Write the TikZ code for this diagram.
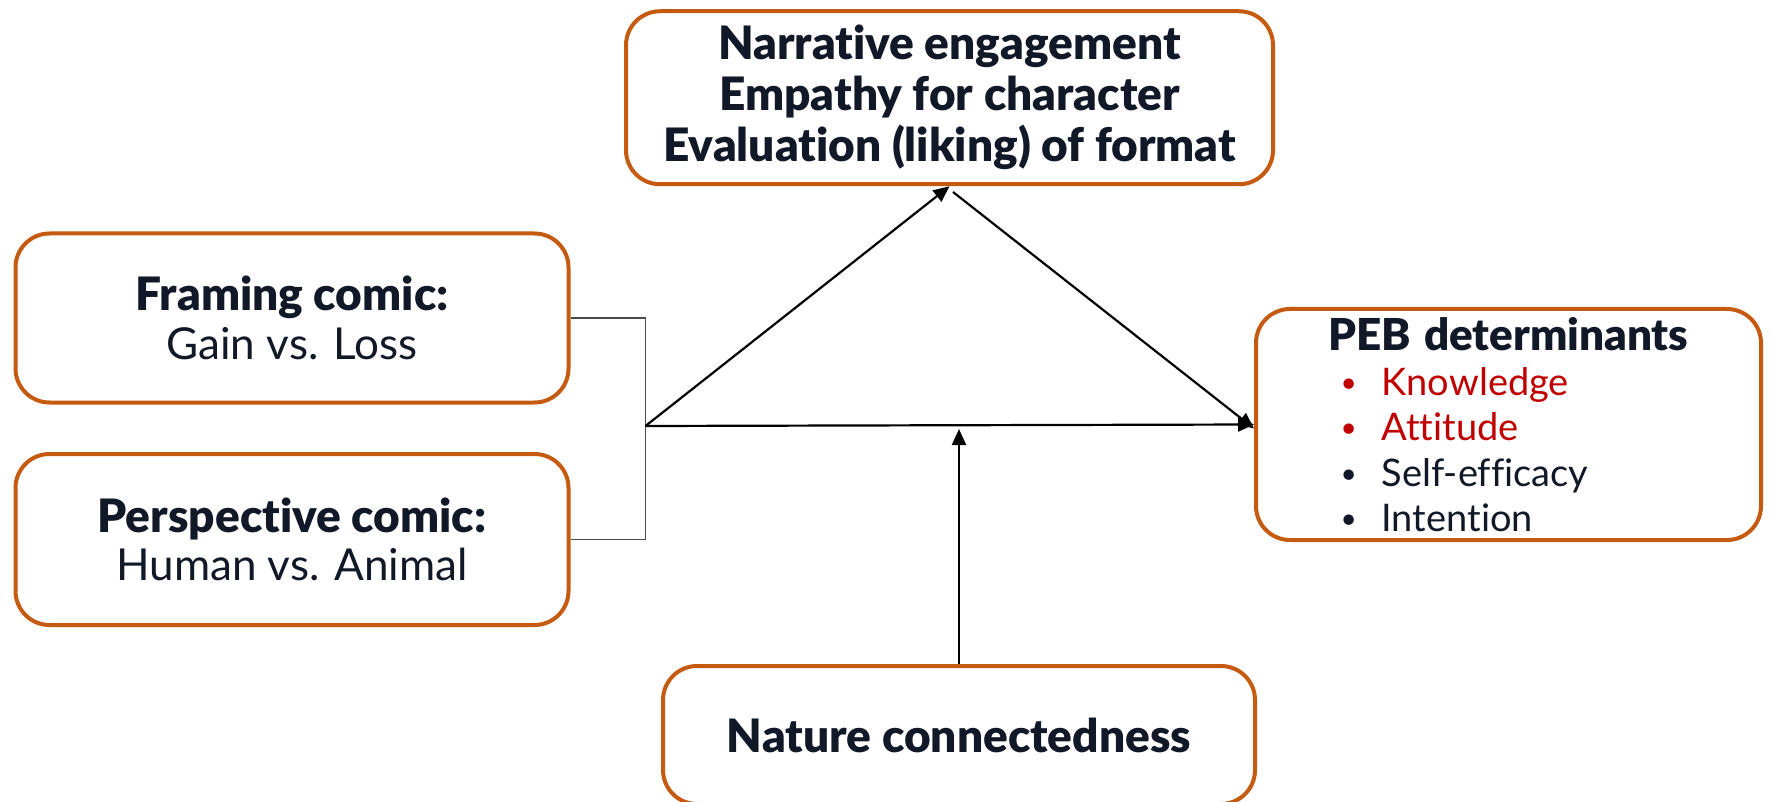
\documentclass[tikz,border=0pt]{standalone}
\usepackage{fontspec}
\setmainfont{Lato}[BoldFont={Lato Black},Ligatures=NoCommon]
\usepackage{xcolor}
\definecolor{Col1}{RGB}{197,90,17}
\definecolor{Col2}{RGB}{17,24,39}
\definecolor{Col3}{RGB}{192,0,0}
\usetikzlibrary{arrows.meta}
\tikzstyle{Box}=[rectangle,rounded corners=17pt,draw=Col1,line width=2pt,
fill=white,text=Col2,align=center,font=\fontsize{22}{24.3}\selectfont]
\tikzstyle{Arrow}=[draw=black,line width=1.1pt,-{Triangle[length=8pt,width=7pt]}]
\tikzstyle{Bracket}=[draw=black!70,line width=.6pt]
\tikzstyle{Head}=[font=\fontsize{23}{25.5}\selectfont\bfseries]
\newcommand{\Title}[1]{{\fontsize{23}{24.3}\selectfont\bfseries #1}}
\newcommand{\Dot}{\makebox[20.5pt][l]{\raisebox{1.5pt}{\fontsize{14}{14}\selectfont\textbullet}}}

\begin{document}
\begin{tikzpicture}[x=.5pt,y=-.5pt]
        \useasboundingbox(0,0)rectangle(1772,802);
        \clip(0,0)rectangle(1772,802);
        \node[Box,Head,minimum width=323.5pt,minimum height=86.5pt](narr)at(949.5,97.75){
            Narrative engagement\\Empathy for character\\Evaluation (liking) of format};
        \node[Box,minimum width=276.5pt,minimum height=84.5pt](fram)at(292,318){
            \Title{Framing comic:}\\Gain vs. Loss};
        \node[Box,minimum width=276.5pt,minimum height=85.5pt](persp)at(292,539.5){
            \Title{Perspective comic:}\\Human vs. Animal};
        \node[Box,minimum width=252.5pt,minimum height=115.5pt,text width=230pt,align=left,
            font=\fontsize{19}{22.6}\selectfont](peb)at(1508.5,424.5){
            \makebox[\linewidth][c]{\fontsize{22}{22.6}\selectfont\bfseries PEB determinants}\\
            \hspace*{31pt}\textcolor{Col3}{\Dot Knowledge}\\
            \hspace*{31pt}\textcolor{Col3}{\Dot Attitude}\\
            \hspace*{31pt}\Dot Self-efficacy\\
            \hspace*{31pt}\Dot Intention};
        \node[Box,Head,minimum width=296pt,minimum height=69pt](natu)at(959,735){
            Nature connectedness};
        \coordinate(junc)at(645.5,426);
        \coordinate(back)at(953,192);
        \draw[Bracket](fram.east)-|(junc)|-(persp.east);
        \draw[Arrow](junc)--(narr.south);
        \draw[Arrow](back)--([yshift=-2pt]peb.west);
        \draw[Arrow](junc)--(peb.west);
        \draw[Arrow,shorten >=1.5pt](natu.north)--(natu.north|-junc);
    \end{tikzpicture}
\end{document}
